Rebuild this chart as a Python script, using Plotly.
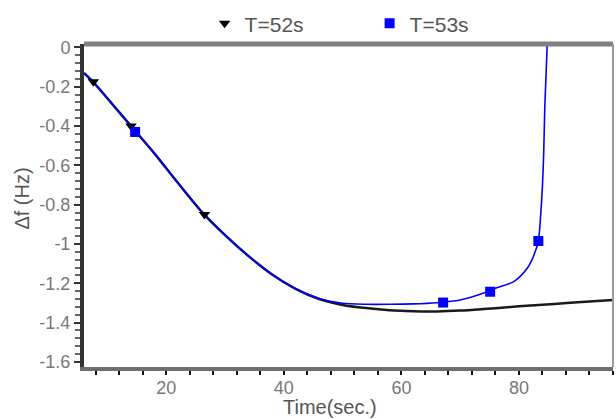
import plotly.graph_objects as go

# T=52s curve (black)
t52_x = [6, 8, 10, 14, 18, 22, 26, 30, 34, 38, 42, 46, 50, 54, 58, 62, 66, 70, 74, 78, 82, 86, 90, 96]
t52_y = [-0.13, -0.19, -0.26, -0.40, -0.54, -0.69, -0.835, -0.955, -1.062, -1.155, -1.228, -1.280,
         -1.310, -1.326, -1.337, -1.342, -1.343, -1.339, -1.331, -1.322, -1.313, -1.305, -1.297, -1.285]
t52_mx = [7.6, 14.0, 26.5]
t52_my = [-0.175, -0.40, -0.85]

# T=53s curve (blue)
t53_x = [6, 8, 10, 14, 18, 22, 26, 30, 34, 38, 42, 46, 50, 54, 58, 62, 66, 70, 74, 76, 79.2, 81.5,
         82.5, 83.3, 83.7, 84.0, 84.2, 84.4, 84.6, 84.85]
t53_y = [-0.13, -0.19, -0.26, -0.40, -0.54, -0.69, -0.835, -0.955, -1.062, -1.155, -1.228, -1.278,
         -1.302, -1.307, -1.307, -1.305, -1.299, -1.285, -1.250, -1.225, -1.19, -1.12,
         -1.06, -0.985, -0.85, -0.70, -0.55, -0.30, -0.15, 0.05]
t53_mx = [14.7, 67.1, 75.1, 83.3]
t53_my = [-0.43, -1.298, -1.243, -0.985]

y_tickvals = [0, -0.2, -0.4, -0.6, -0.8, -1.0, -1.2, -1.4, -1.6]
y_ticktext = ["0", "-0.2", "-0.4", "-0.6", "-0.8", "-1", "-1.2", "-1.4", "-1.6"]
x_tickvals = [20, 40, 60, 80]
x_ticktext = ["20", "40", "60", "80"]

FONT = "Liberation Sans, Arial, sans-serif"

fig = go.Figure()
fig.add_trace(go.Scatter(x=t52_x, y=t52_y, mode="lines",
                         line=dict(color="#1a1a1a", width=2.5, shape="spline", smoothing=0.8),
                         showlegend=False, hoverinfo="skip"))
fig.add_trace(go.Scatter(x=t53_x, y=t53_y, mode="lines",
                         line=dict(color="#0000ff", width=1.6, shape="spline", smoothing=0.8),
                         showlegend=False, hoverinfo="skip"))
fig.add_trace(go.Scatter(x=t52_mx, y=t52_my, mode="markers", name="T=52s",
                         marker=dict(symbol="triangle-down", size=10, color="#000000")))
fig.add_trace(go.Scatter(x=t53_mx, y=t53_my, mode="markers", name="T=53s",
                         marker=dict(symbol="square", size=10, color="#0000ff")))

fig.update_layout(
    width=616, height=419,
    margin=dict(l=84, r=3, t=40, b=52),
    paper_bgcolor="white", plot_bgcolor="white",
    font=dict(family=FONT, color="#666666"),
    legend=dict(orientation="h", x=0.228, y=1.063, xanchor="left", yanchor="middle",
                font=dict(size=21, color="#555555"), entrywidth=120, entrywidthmode="pixels",
                bgcolor="rgba(0,0,0,0)", itemclick=False),
    xaxis=dict(range=[6.0, 96.0], showgrid=False, zeroline=False,
               showline=True, linecolor="#6e6e6e", linewidth=4,
               tickmode="array", tickvals=x_tickvals, ticktext=x_ticktext,
               ticks="outside", ticklen=4, tickwidth=2, tickcolor="#111111",
               tickfont=dict(size=18, color="#777777"), ticklabelstandoff=-3,
               minor=dict(dtick=4, tick0=0, ticks="outside", ticklen=4, tickwidth=2, tickcolor="#111111")),
    yaxis=dict(range=[-1.626, 0.0176], showgrid=False, zeroline=False,
               showline=True, linecolor="#333333", linewidth=4,
               tickmode="array", tickvals=y_tickvals, ticktext=y_ticktext,
               ticks="outside", ticklen=6, tickwidth=2, tickcolor="#333333",
               tickfont=dict(size=18, color="#777777"),
               minor=dict(dtick=0.04, tick0=0, ticks="outside", ticklen=5, tickwidth=2, tickcolor="#666666")),
    shapes=[
        dict(type="line", xref="paper", yref="paper", x0=0, x1=1, y0=1, y1=1,
             line=dict(color="#808080", width=5)),
        dict(type="line", xref="paper", yref="paper", x0=1, x1=1, y0=0, y1=1,
             line=dict(color="#9a9a9a", width=2)),
    ],
    annotations=[
        dict(text="Time(sec.)", xref="paper", yref="paper", x=0.465, y=-0.125,
             xanchor="center", yanchor="middle", showarrow=False,
             font=dict(size=20, color="#555555")),
        dict(text="Δf (Hz)", xref="paper", yref="paper", x=-0.118, y=0.52,
             xanchor="center", yanchor="middle", showarrow=False, textangle=-90,
             font=dict(size=20, color="#555555")),
    ],
)

fig.write_html("out.html")
